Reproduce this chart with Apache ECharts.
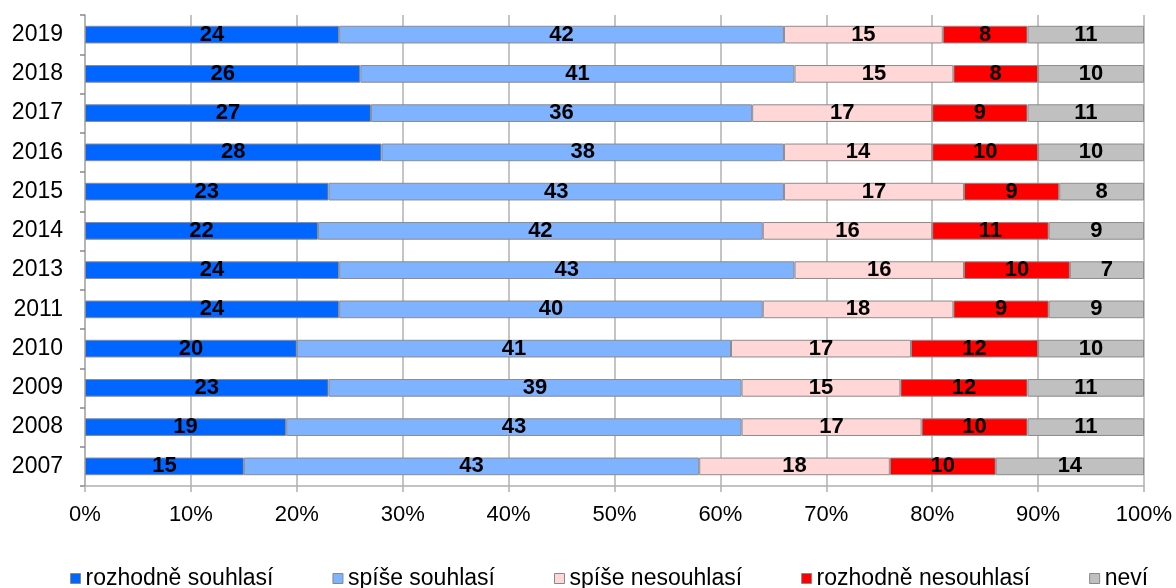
<!DOCTYPE html>
<html><head><meta charset="utf-8">
<script src="https://cdn.jsdelivr.net/npm/echarts@6/dist/echarts.min.js"></script>
<style>html,body{margin:0;padding:0;background:#fff}#c{width:1176px;height:588px}</style>
</head><body><div id="c"></div>
<script>
const years = ['2019','2018','2017','2016','2015','2014','2013','2011','2010','2009','2008','2007'];
const seriesNames = ['rozhodně souhlasí','spíše souhlasí','spíše nesouhlasí','rozhodně nesouhlasí','neví'];
const rozhodneSouhlasi   = [24,26,27,28,23,22,24,24,20,23,19,15];
const spiseSouhlasi      = [42,41,36,38,43,42,43,40,41,39,43,43];
const spiseNesouhlasi    = [15,15,17,14,17,16,16,18,17,15,17,18];
const rozhodneNesouhlasi = [8,8,9,10,9,11,10,9,12,12,10,10];
const nevi               = [11,10,11,10,8,9,7,9,10,11,11,14];
const xTicks = [0,10,20,30,40,50,60,70,80,90,100];

const colors = ['#0066ff','#80b3ff','#ffd7d7','#ff0000','#c0c0c0'];
const values = [rozhodneSouhlasi, spiseSouhlasi, spiseNesouhlasi, rozhodneNesouhlasi, nevi];
const font = 'Liberation Sans, Arial, sans-serif';

const chart = echarts.init(document.getElementById('c'));
chart.setOption({
  animation: false,
  textStyle: {fontFamily: font},
  grid: {left: 85, right: 32, top: 15, bottom: 102, containLabel: false},
  legend: {
    left: 65, top: 562, itemWidth: 10, itemHeight: 10, itemGap: 59,
    icon: 'rect',
    textStyle: {fontSize: 23, color: '#000', fontFamily: font, padding: [0,0,0,0]},
    itemStyle: {borderColor: '#888', borderWidth: 1},
    data: seriesNames
  },
  xAxis: {
    type: 'value', min: 0, max: 100, interval: 10,
    axisLine: {show: true, lineStyle: {color: '#b0b0b0', width: 1.5}},
    axisTick: {show: true, length: 6, lineStyle: {color: '#b0b0b0', width: 1.5}},
    splitLine: {show: true, lineStyle: {color: '#b0b0b0', width: 1.5}},
    axisLabel: {fontSize: 22, color: '#000', margin: 18, formatter: v => xTicks.includes(v) ? v + '%' : ''}
  },
  yAxis: {
    type: 'category', data: years, inverse: true,
    axisLine: {show: true, lineStyle: {color: '#b0b0b0', width: 1.5}},
    axisTick: {show: true, length: 5, inside: false, lineStyle: {color: '#888', width: 1.5}},
    axisLabel: {fontSize: 23, color: '#000', margin: 22},
    splitLine: {show: false}
  },
  series: seriesNames.map((n, i) => ({
    name: n, type: 'bar', stack: 'total', barWidth: '45%',
    data: values[i],
    itemStyle: {color: colors[i], borderColor: '#8c8c8c', borderWidth: 1},
    label: {show: true, position: 'inside', fontSize: 22, fontWeight: 'bold', color: '#000', fontFamily: font},
    emphasis: {disabled: true}
  }))
});
</script></body></html>
